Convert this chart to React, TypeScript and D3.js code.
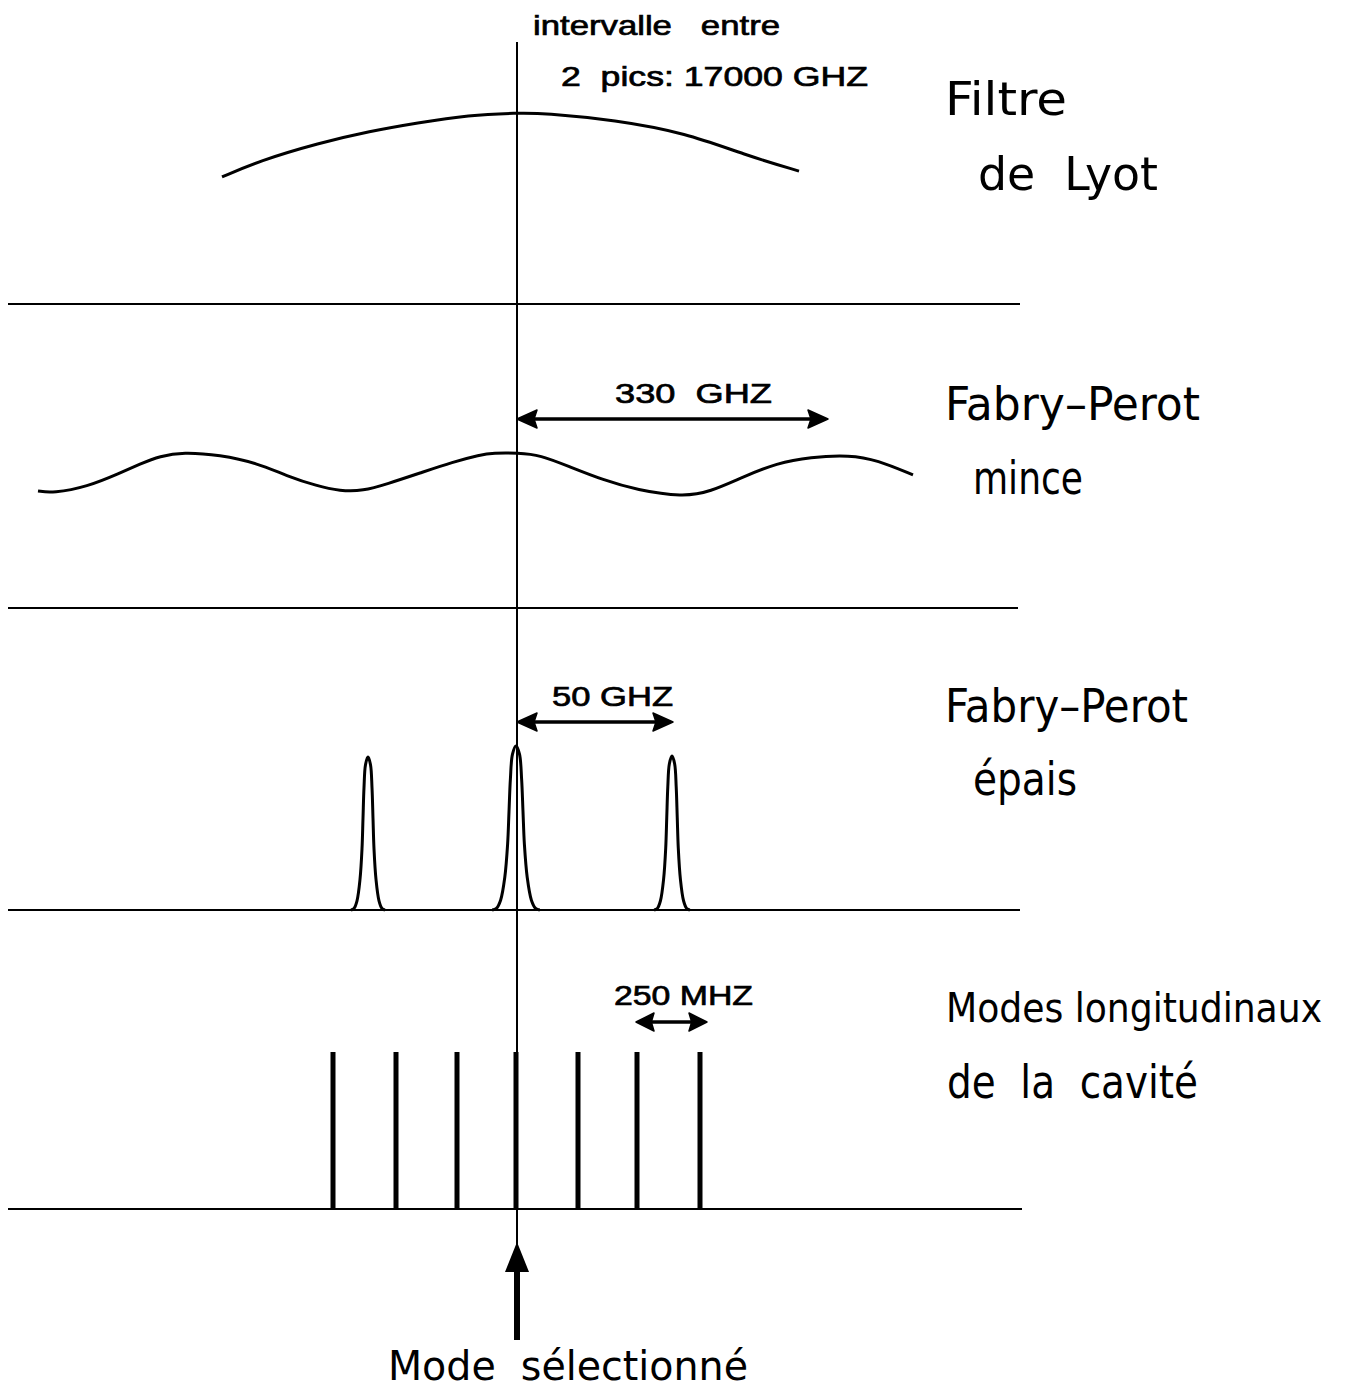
import React from "react";
import * as d3 from "d3";

// ---------- data (x = frequency offset from the selected mode, in drawing units) ----------
const lyotCurve: [number, number][] = [
  [-295, 0.665], [-258, 0.749], [-198, 0.843], [-147, 0.905], [-100, 0.948],
  [-48, 0.99], [0, 1.0], [27, 1.0], [98, 0.963], [169, 0.895], [228, 0.78], [282, 0.696],
];

const thinFPCurve: [number, number][] = [
  [-479, 0.75], [-464, 0.737], [-430, 0.776], [-397, 0.865], [-377, 0.923], [-357, 0.974],
  [-334, 1.0], [-297, 0.981], [-260, 0.929], [-230, 0.846], [-200, 0.782], [-177, 0.75],
  [-154, 0.75], [-130, 0.795], [-97, 0.865], [-64, 0.936], [-37, 0.981], [-24, 0.994],
  [1, 0.994], [23, 0.981], [53, 0.904], [86, 0.821], [120, 0.756], [166, 0.712],
  [193, 0.744], [226, 0.84], [260, 0.929], [293, 0.968], [333, 0.981], [360, 0.949], [396, 0.853],
];

// one Airy-like peak outline (offset from peak centre, relative height)
const peakProfile: [number, number][] = [
  [-17, 0], [-14, 0.01], [-11, 0.06], [-8, 0.2], [-6, 0.4], [-5, 0.6], [-4, 0.8], [-2.5, 0.95],
  [0, 1], [2.5, 0.95], [4, 0.8], [5, 0.6], [6, 0.4], [8, 0.2], [11, 0.06], [14, 0.01], [17, 0],
];
const thickFPPeakPos = [-149, -1, 155];
const thickFPPeakHeight = [0.927, 0.994, 0.933];
const thickFPPeakWidth = [1.0, 1.4, 1.05];

const cavityModes = [-184, -121, -60, -1, 61, 120, 183];

const lyotLabel = ["Filtre", "de  Lyot"];
const thinLabel = ["Fabry–Perot", "mince"];
const thickLabel = ["Fabry–Perot", "épais"];
const modesLabel = ["Modes longitudinaux", "de  la  cavité"];
const topNote = ["intervalle   entre", "2  pics: 17000 GHZ"];
const spacingLabels = ["330  GHZ", "50 GHZ", "250 MHZ"];
const spacingSpans: [number, number][] = [[0, 311], [0, 156], [119, 190]];
const selectedLabel = "Mode  sélectionné";

// ---------- layout ----------
const W = 1350, H = 1391;
const x = d3.scaleLinear().domain([-509, 505]).range([8, 1022]);
const panelBase = [304, 608, 910, 1209];
const panelTop = [113, 452, 745, 1052];
const yPanel = panelBase.map((b, i) => d3.scaleLinear().domain([0, 1]).range([b, panelTop[i]]));
const baseEnds = [1020, 1018, 1020, 1022];

const smooth = d3.line<[number, number]>().curve(d3.curveBasis);

const LABEL_FONT = "'Liberation Sans Narrow', 'DejaVu Sans Condensed', 'Noto Sans', sans-serif";
const NOTE_FONT = "'Liberation Sans', Arial, sans-serif";

function Arrow({ x1, x2, y, head = 20, half = 8 }: { x1: number; x2: number; y: number; head?: number; half?: number }) {
  return (
    <g>
      <line x1={x1 + head * 0.8} x2={x2 - head * 0.8} y1={y} y2={y} stroke="#000" strokeWidth={3.5} />
      <path d={`M${x1},${y} L${x1 + head},${y - half} L${x1 + head * 0.85},${y} L${x1 + head},${y + half} Z`} fill="#000" stroke="#000" strokeWidth={1.5} strokeLinejoin="round" />
      <path d={`M${x2},${y} L${x2 - head},${y - half} L${x2 - head * 0.85},${y} L${x2 - head},${y + half} Z`} fill="#000" stroke="#000" strokeWidth={1.5} strokeLinejoin="round" />
    </g>
  );
}

function Label({ text, x0, y0, len, size = 46 }: { text: string; x0: number; y0: number; len: number; size?: number }) {
  return (
    <text x={x0} y={y0} fontFamily={LABEL_FONT} fontSize={size} textLength={len} lengthAdjust="spacingAndGlyphs"
      fill="#000" style={{ whiteSpace: "pre" }}>
      {text}
    </text>
  );
}

function Note({ text, x0, y0, len, size = 28 }: { text: string; x0: number; y0: number; len: number; size?: number }) {
  return (
    <text x={x0} y={y0} fontFamily={NOTE_FONT} fontSize={size} textLength={len} lengthAdjust="spacingAndGlyphs"
      fill="#000" stroke="#000" strokeWidth={0.7} style={{ whiteSpace: "pre" }}>
      {text}
    </text>
  );
}

export default function App() {
  const cx = x(0);
  const lyotPts = lyotCurve.map(([f, v]) => [x(f), yPanel[0](v)] as [number, number]);
  const thinPts = thinFPCurve.map(([f, v]) => [x(f), yPanel[1](v)] as [number, number]);
  const peaks = thickFPPeakPos.map((p, i) =>
    peakProfile.map(([o, v]) => [x(p + o * thickFPPeakWidth[i]), yPanel[2](v * thickFPPeakHeight[i])] as [number, number])
  );
  const peakLine = d3.line<[number, number]>().curve(d3.curveCatmullRom.alpha(0.5));

  return (
    <div style={{ position: "absolute", left: 0, top: 0, width: W, height: H, background: "#fff" }}>
      <svg width={W} height={H} style={{ display: "block" }}>
        <rect width={W} height={H} fill="#fff" />
        {/* panel baselines */}
        {panelBase.map((b, i) => (
          <line key={i} x1={8} x2={baseEnds[i]} y1={b} y2={b} stroke="#000" strokeWidth={2.2} />
        ))}
        {/* central reference line */}
        <line x1={cx} x2={cx} y1={42} y2={1245} stroke="#000" strokeWidth={2} />

        {/* Lyot filter */}
        <path d={smooth(lyotPts) || ""} fill="none" stroke="#000" strokeWidth={3} />
        {/* thin Fabry-Perot */}
        <path d={smooth(thinPts) || ""} fill="none" stroke="#000" strokeWidth={3} />
        {/* thick Fabry-Perot peaks */}
        {peaks.map((pts, i) => (
          <path key={i} d={peakLine(pts) || ""} fill="none" stroke="#000" strokeWidth={3} />
        ))}
        {/* cavity modes */}
        {cavityModes.map((m, i) => (
          <line key={i} x1={x(m)} x2={x(m)} y1={yPanel[3](0)} y2={yPanel[3](1)} stroke="#000" strokeWidth={5} />
        ))}

        {/* spacing arrows */}
        <Arrow x1={x(spacingSpans[0][0])} x2={x(spacingSpans[0][1])} y={419} head={20} half={9} />
        <Arrow x1={x(spacingSpans[1][0])} x2={x(spacingSpans[1][1])} y={722} head={20} half={9} />
        <Arrow x1={x(spacingSpans[2][0])} x2={x(spacingSpans[2][1])} y={1022} head={18} half={9} />
        <Note text={spacingLabels[0]} x0={615} y0={403} len={157} />
        <Note text={spacingLabels[1]} x0={552} y0={706} len={121} />
        <Note text={spacingLabels[2]} x0={614} y0={1005} len={139} />

        {/* top note */}
        <Note text={topNote[0]} x0={533} y0={35} len={247} />
        <Note text={topNote[1]} x0={561} y0={86} len={307} />

        {/* selected-mode arrow */}
        <line x1={cx} x2={cx} y1={1340} y2={1265} stroke="#000" strokeWidth={6} />
        <path d={`M${cx},1242 L${cx - 12},1272 L${cx + 12},1272 Z`} fill="#000" />
        <Label text={selectedLabel} x0={388} y0={1380} len={360} size={41} />

        {/* right-hand labels */}
        <Label text={lyotLabel[0]} x0={945} y0={115} len={122} />
        <Label text={lyotLabel[1]} x0={978} y0={190} len={180} />
        <Label text={thinLabel[0]} x0={945} y0={420} len={255} />
        <Label text={thinLabel[1]} x0={973} y0={494} len={110} />
        <Label text={thickLabel[0]} x0={945} y0={722} len={243} />
        <Label text={thickLabel[1]} x0={973} y0={795} len={104} />
        <Label text={modesLabel[0]} x0={946} y0={1022} len={376} size={40} />
        <Label text={modesLabel[1]} x0={947} y0={1098} len={251} />
      </svg>
    </div>
  );
}
